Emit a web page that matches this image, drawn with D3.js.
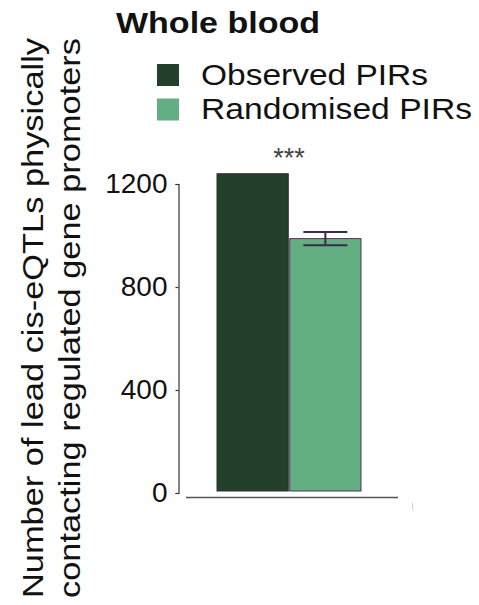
<!DOCTYPE html>
<html><head><meta charset="utf-8">
<script src="https://cdn.jsdelivr.net/npm/d3@7"></script>
<style>body{margin:0;background:#fff}svg{display:block}text{font-family:"Liberation Sans",Arial,Helvetica,sans-serif}</style>
</head><body>
<svg id="c" width="479" height="605"></svg>
<script>
const categories = ["Observed PIRs", "Randomised PIRs"];
const values = [1240, 988];
const errors = [0, 26];
const yTicks = [0, 400, 800, 1200];
const colors = ["#22402a", "#63ae83"];
const title = "Whole blood";
const yLabel = ["Number of lead cis-eQTLs physically", "contacting regulated gene promoters"];
const signif = "***";

const svg = d3.select("#c");
const y = d3.scaleLinear().domain([0, 1200]).range([493, 184]);
const x = d3.scaleBand().domain(categories).range([217, 361]).paddingInner(0.02);

// title
svg.append("text").attr("x", 116).attr("y", 33).attr("font-size", 30).attr("font-weight", "bold")
  .attr("fill", "#111").attr("textLength", 204).attr("lengthAdjust", "spacingAndGlyphs").text(title);

// legend
const leg = svg.append("g");
categories.forEach((c, i) => {
  const yy = 64 + i * 34.5;
  leg.append("rect").attr("x", 157).attr("y", yy).attr("width", 22).attr("height", 22).attr("fill", colors[i]);
  leg.append("text").attr("x", 201).attr("y", yy + 20.5).attr("font-size", 29).attr("fill", "#111")
    .attr("textLength", i === 0 ? 227 : 271).attr("lengthAdjust", "spacingAndGlyphs").text(c);
});

// y axis
const ax = svg.append("g").attr("transform", "translate(178.5,0)")
  .call(d3.axisLeft(y).tickValues(yTicks).tickSizeInner(3).tickSizeOuter(3).tickPadding(8).tickFormat(d3.format("d")));
ax.select(".domain").attr("stroke", "#333").attr("stroke-width", 1.2);
ax.selectAll(".tick line").attr("stroke", "#333").attr("stroke-width", 1.2);
ax.selectAll(".tick text").attr("font-size", 28).attr("fill", "#111").attr("font-family", '"Liberation Sans",Arial,sans-serif');

// x axis line
svg.append("line").attr("x1", 186).attr("x2", 398).attr("y1", 497.5).attr("y2", 497.5)
  .attr("stroke", "#555").attr("stroke-width", 1.5);
svg.append("line").attr("x1", 412.5).attr("x2", 412.5).attr("y1", 503).attr("y2", 510)
  .attr("stroke", "#ccc").attr("stroke-width", 1);

// bars
svg.selectAll(".bar").data(categories).enter().append("rect")
  .attr("x", d => x(d)).attr("width", x.bandwidth())
  .attr("y", (d, i) => y(values[i])).attr("height", (d, i) => y(0) - 2 - y(values[i]))
  .attr("fill", (d, i) => colors[i])
  .attr("stroke", (d, i) => i === 0 ? "#333" : "#4a3a55").attr("stroke-width", 1);

// error bars
categories.forEach((c, i) => {
  if (!errors[i]) return;
  const cx = x(c) + x.bandwidth() / 2;
  const g = svg.append("g").attr("stroke", "#3b2a48").attr("stroke-width", 2);
  g.append("line").attr("x1", cx).attr("x2", cx).attr("y1", y(values[i] + errors[i])).attr("y2", y(values[i] - errors[i]));
  [values[i] + errors[i], values[i] - errors[i]].forEach(v =>
    g.append("line").attr("x1", cx - 22).attr("x2", cx + 22).attr("y1", y(v)).attr("y2", y(v)));
});

// significance
svg.append("text").attr("x", (x(categories[0]) + x(categories[1]) + x.bandwidth()) / 2).attr("y", 167)
  .attr("text-anchor", "middle").attr("font-size", 27).attr("fill", "#444").text(signif);

// y label
yLabel.forEach((t, i) => {
  svg.append("text").attr("transform", `translate(${42.5 + i * 37},318) rotate(-90)`)
    .attr("text-anchor", "middle").attr("font-size", 29.5).attr("fill", "#111")
    .attr("textLength", 560).attr("lengthAdjust", "spacingAndGlyphs").text(t);
});
</script>
</body></html>
